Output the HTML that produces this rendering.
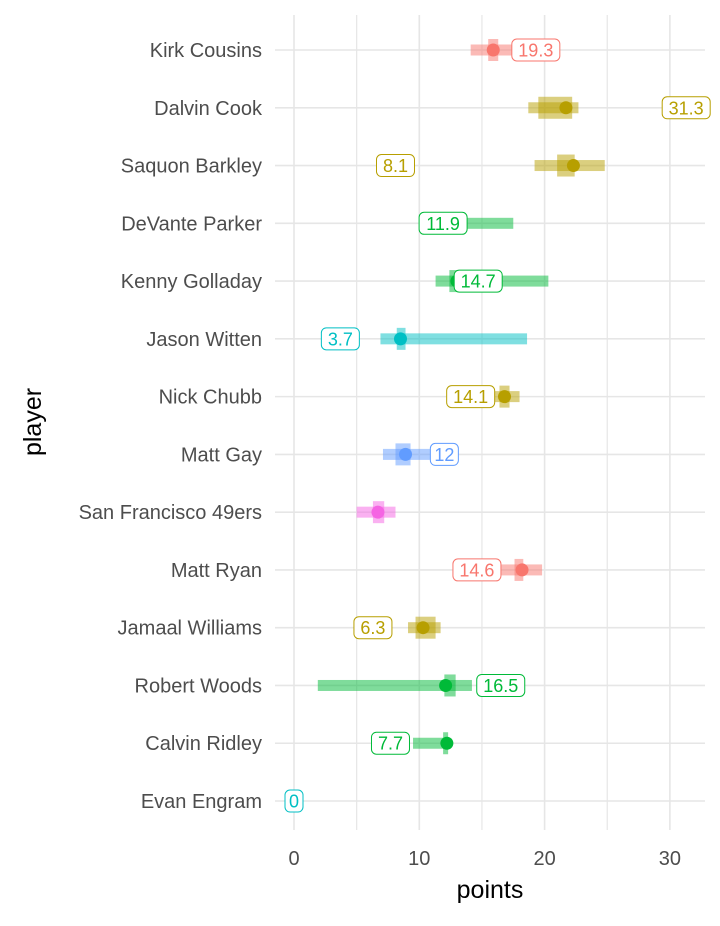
<!DOCTYPE html>
<html><head><meta charset="utf-8"><style>
body{margin:0;background:#fff;font-family:"Liberation Sans",sans-serif}
svg text{font-family:"Liberation Sans",sans-serif}
</style></head><body>
<svg id="chart" width="720" height="921" xmlns="http://www.w3.org/2000/svg"></svg>
<script>
const players=["Kirk Cousins","Dalvin Cook","Saquon Barkley","DeVante Parker","Kenny Golladay","Jason Witten","Nick Chubb","Matt Gay","San Francisco 49ers","Matt Ryan","Jamaal Williams","Robert Woods","Calvin Ridley","Evan Engram"];
const colorKeys=["r","o","o","g","g","t","o","b","p","r","o","g","g","t"];
const rangeLo=[14.1,18.7,19.2,12.0,11.3,6.9,16.0,7.1,5.0,16.3,9.1,1.9,9.5,null];
const rangeHi=[17.4,22.7,24.8,17.5,20.3,18.6,18.0,10.9,8.1,19.8,11.7,14.2,12.3,null];
const iqrLo=[15.5,19.5,21.0,null,12.4,8.2,16.4,8.1,6.3,17.6,9.7,12.0,11.9,null];
const iqrHi=[16.3,22.2,22.4,null,13.4,8.9,17.2,9.3,7.2,18.3,11.3,12.9,12.3,null];
const projected=[15.9,21.7,22.3,null,13.0,8.5,16.8,8.9,6.7,18.2,10.3,12.1,12.2,null];
const actual=[19.3,31.3,8.1,11.9,14.7,3.7,14.1,12,null,14.6,6.3,16.5,7.7,0];
const xTicks=[0,10,20,30];
const pal={r:"#F8766D",o:"#B79F00",g:"#00BA38",t:"#00BFC4",b:"#619CFF",p:"#F564E3"};
const svg=document.getElementById('chart');
const NS="http://www.w3.org/2000/svg";
const x=v=>294+v*12.53;
const y=i=>50+i*57.77;
function mk(tag,attrs,parent){const e=document.createElementNS(NS,tag);for(const k in attrs)e.setAttribute(k,attrs[k]);(parent||svg).appendChild(e);return e;}
for(let v=0;v<=30;v+=5){const g=mk('line',{x1:x(v),x2:x(v),y1:15,y2:830,stroke:'#e6e6e6','stroke-width':v%10==0?1.6:1.2});

}
players.forEach((p,i)=>{const g=mk('line',{x1:275,x2:705,y1:y(i),y2:y(i),stroke:'#e6e6e6','stroke-width':1.6});


const t=mk('text',{x:262,y:y(i)+7,'text-anchor':'end','font-size':20,fill:'#4d4d4d'});t.textContent=p;

});
xTicks.forEach(v=>{const t=mk('text',{x:x(v),y:865,'text-anchor':'middle','font-size':20,fill:'#4d4d4d'});t.textContent=v;

});
const xt=mk('text',{x:490,y:898,'text-anchor':'middle','font-size':25,fill:'#000'});xt.textContent='points';


const yt=mk('text',{x:0,y:0,transform:'translate(41,422) rotate(-90)','text-anchor':'middle','font-size':25,fill:'#000'});yt.textContent='player';


players.forEach((p,i)=>{const c=pal[colorKeys[i]];const cy=y(i);
if(rangeLo[i]!=null){const r=mk('rect',{x:x(rangeLo[i]),y:cy-5.5,width:x(rangeHi[i])-x(rangeLo[i]),height:11,fill:c,'fill-opacity':0.5});

}
if(iqrLo[i]!=null){const r=mk('rect',{x:x(iqrLo[i]),y:cy-11,width:x(iqrHi[i])-x(iqrLo[i]),height:22,fill:c,'fill-opacity':0.5});

}
if(projected[i]!=null){const d=mk('circle',{cx:x(projected[i]),cy:cy,r:6.5,fill:c});

}
if(actual[i]!=null){const s=String(actual[i]);const w=s.length*10+8;
const r=mk('rect',{x:x(actual[i])-w/2,y:cy-11,width:w,height:22,rx:5,fill:'#fff',stroke:c,'stroke-width':1});


const t=mk('text',{x:x(actual[i]),y:cy+6.5,'text-anchor':'middle','font-size':18,fill:c});t.textContent=s;

}
});
</script>
</body></html>
